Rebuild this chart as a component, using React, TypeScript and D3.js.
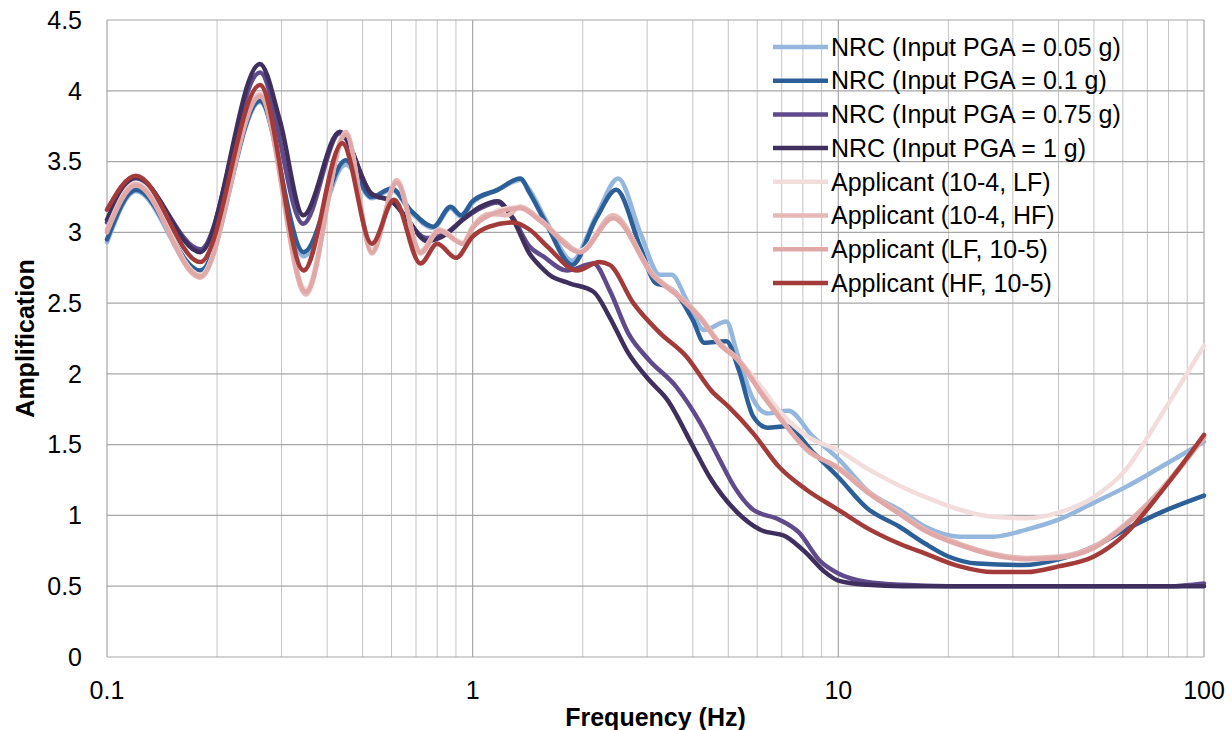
import React, { useEffect, useRef } from 'react';
import * as d3 from 'd3';

// frequency (Hz), amplification pairs
const nrc005 = [
  [0.1, 2.93], [0.12, 3.29], [0.18, 2.70], [0.262, 3.92], [0.345, 2.83], [0.45, 3.48],
  [0.53, 3.24], [0.6, 3.30], [0.68, 3.14], [0.78, 3.03], [0.87, 3.17], [0.93, 3.11],
  [1.0, 3.21], [1.17, 3.30], [1.35, 3.37], [1.43, 3.30], [1.59, 3.08], [1.87, 2.80],
  [2.18, 3.12], [2.5, 3.38], [2.87, 3.0], [3.25, 2.70], [3.5, 2.70], [3.85, 2.52],
  [4.3, 2.31], [4.94, 2.37], [5.28, 2.15], [5.85, 1.82], [6.4, 1.72], [7.3, 1.74],
  [8.5, 1.56], [10, 1.40], [12.2, 1.16], [14.7, 1.04], [17.3, 0.92], [21.5, 0.85],
  [26.5, 0.85], [32.7, 0.90], [40, 0.97], [50, 1.09], [61, 1.20], [76, 1.34], [100, 1.52],
];
const nrc01 = [
  [0.1, 2.95], [0.12, 3.30], [0.18, 2.73], [0.262, 3.93], [0.345, 2.86], [0.45, 3.51],
  [0.53, 3.25], [0.6, 3.31], [0.68, 3.15], [0.78, 3.04], [0.87, 3.18], [0.93, 3.12],
  [1.0, 3.22], [1.17, 3.30], [1.35, 3.38], [1.43, 3.28], [1.59, 3.06], [1.87, 2.77],
  [2.18, 3.10], [2.47, 3.30], [2.87, 2.90], [3.17, 2.64], [3.39, 2.62], [3.6, 2.57],
  [4.0, 2.38], [4.3, 2.22], [4.94, 2.23], [5.34, 2.03], [5.85, 1.70], [6.4, 1.62],
  [7.2, 1.63], [8.5, 1.45], [10, 1.27], [12, 1.05], [14.7, 0.92], [17.3, 0.80],
  [20, 0.71], [24, 0.66], [32, 0.65], [40, 0.69], [50, 0.78], [61, 0.90], [76, 1.02], [100, 1.14],
];
const nrc075 = [
  [0.1, 3.07], [0.12, 3.38], [0.18, 2.88], [0.262, 4.13], [0.344, 3.06], [0.433, 3.70],
  [0.53, 3.27], [0.6, 3.22], [0.75, 2.96], [0.85, 3.0], [0.94, 3.09], [1.05, 3.17],
  [1.17, 3.21], [1.29, 3.10], [1.43, 2.90], [1.56, 2.83], [1.81, 2.73], [2.14, 2.78],
  [2.37, 2.59], [2.66, 2.29], [3.03, 2.10], [3.6, 1.91], [4.2, 1.65], [4.7, 1.41],
  [5.2, 1.20], [5.85, 1.04], [6.9, 0.97], [7.8, 0.88], [8.9, 0.68], [10, 0.59],
  [12, 0.53], [15, 0.51], [20, 0.50], [80, 0.50], [100, 0.52],
];
const nrc1 = [
  [0.1, 3.09], [0.12, 3.39], [0.18, 2.86], [0.262, 4.19], [0.297, 3.79], [0.344, 3.12],
  [0.433, 3.71], [0.53, 3.27], [0.6, 3.22], [0.66, 3.10], [0.75, 2.94], [0.85, 2.99],
  [0.94, 3.09], [1.05, 3.18], [1.17, 3.22], [1.29, 3.09], [1.43, 2.85], [1.53, 2.76],
  [1.62, 2.70], [1.84, 2.64], [2.14, 2.58], [2.37, 2.40], [2.66, 2.15], [3.03, 1.96],
  [3.4, 1.82], [4.0, 1.49], [4.45, 1.27], [5.3, 1.02], [6.1, 0.90], [7.2, 0.85],
  [8.2, 0.73], [9.1, 0.61], [10, 0.54], [12, 0.51], [15, 0.50], [100, 0.50],
];
const app4lf = [
  [0.1, 3.02], [0.12, 3.35], [0.18, 2.70], [0.262, 3.98], [0.35, 2.60], [0.45, 3.70],
  [0.53, 2.88], [0.62, 3.35], [0.72, 2.87], [0.81, 3.02], [0.94, 2.93], [1.0, 3.04],
  [1.11, 3.13], [1.35, 3.18], [1.53, 3.09], [1.97, 2.87], [2.42, 3.12], [3.12, 2.70],
  [3.6, 2.57], [4.2, 2.40], [4.73, 2.22], [5.34, 2.10], [6.1, 1.92], [7.0, 1.72],
  [8.2, 1.56], [10, 1.46], [12.2, 1.32], [14.7, 1.21], [17.3, 1.13], [21.5, 1.04],
  [26.5, 0.99], [32.7, 0.98], [40, 1.02], [50, 1.13], [61, 1.32], [76, 1.70], [100, 2.20],
];
const app4hf = [
  [0.1, 3.02], [0.12, 3.34], [0.18, 2.68], [0.262, 3.97], [0.35, 2.56], [0.45, 3.71],
  [0.53, 2.85], [0.62, 3.37], [0.72, 2.85], [0.81, 3.02], [0.94, 2.92], [1.0, 3.04],
  [1.11, 3.13], [1.24, 3.12], [1.35, 3.18], [1.53, 3.09], [1.77, 2.94], [1.97, 2.86],
  [2.42, 3.12], [3.12, 2.70], [3.6, 2.57], [4.2, 2.40], [4.73, 2.22], [5.34, 2.10],
  [6.2, 1.86], [6.9, 1.70], [8.2, 1.46], [10, 1.34], [12.2, 1.16], [14.7, 1.02],
  [17.3, 0.90], [21.5, 0.80], [26.5, 0.73], [32.7, 0.70], [40, 0.71], [50, 0.78],
  [61, 0.94], [76, 1.18], [100, 1.56],
];
const app5lf = [
  [0.1, 3.00], [0.12, 3.33], [0.18, 2.69], [0.262, 3.96], [0.35, 2.58], [0.45, 3.69],
  [0.53, 2.86], [0.62, 3.35], [0.72, 2.86], [0.81, 3.01], [0.94, 2.92], [1.0, 3.03],
  [1.11, 3.12], [1.35, 3.17], [1.53, 3.08], [1.97, 2.86], [2.42, 3.10], [3.12, 2.69],
  [3.6, 2.56], [4.2, 2.39], [4.73, 2.21], [5.34, 2.09], [6.2, 1.85], [6.9, 1.69],
  [8.2, 1.47], [10, 1.33], [12.2, 1.15], [14.7, 1.01], [17.3, 0.89], [21.5, 0.79],
  [26.5, 0.72], [32.7, 0.69], [40, 0.70], [50, 0.77], [61, 0.93], [76, 1.17], [100, 1.55],
];
const app5hf = [
  [0.1, 3.16], [0.12, 3.40], [0.18, 2.79], [0.262, 4.04], [0.345, 2.73], [0.44, 3.63],
  [0.53, 2.92], [0.61, 3.23], [0.72, 2.78], [0.80, 2.92], [0.9, 2.82], [1.0, 2.97],
  [1.11, 3.04], [1.29, 3.07], [1.43, 3.02], [1.6, 2.90], [1.93, 2.73], [2.22, 2.79],
  [2.37, 2.77], [2.75, 2.50], [3.25, 2.29], [3.85, 2.12], [4.5, 1.88], [5.0, 1.77],
  [5.85, 1.58], [6.9, 1.34], [8.2, 1.18], [10, 1.04], [12.2, 0.90], [14.7, 0.80],
  [17.3, 0.73], [21.5, 0.64], [26.5, 0.60], [32.7, 0.60], [40, 0.64], [50, 0.71],
  [61, 0.87], [76, 1.16], [100, 1.57],
];

const seriesNames = [
  'NRC (Input PGA = 0.05 g)',
  'NRC (Input PGA = 0.1 g)',
  'NRC (Input PGA = 0.75 g)',
  'NRC (Input PGA = 1 g)',
  'Applicant (10-4, LF)',
  'Applicant (10-4, HF)',
  'Applicant (LF, 10-5)',
  'Applicant (HF, 10-5)',
];
const seriesColors = ['#95b7de', '#2c5f97', '#5f4b8b', '#3f2f5e', '#f2dcdc', '#e6b9b8', '#e0a9a8', '#a33b3b'];
const seriesData = [nrc005, nrc01, nrc075, nrc1, app4lf, app4hf, app5lf, app5hf];

const xTicks = [0.1, 1, 10, 100];
const yTicks = [0, 0.5, 1, 1.5, 2, 2.5, 3, 3.5, 4, 4.5];

const W = 1232, H = 730;
const margin = { top: 20, right: 28, bottom: 73, left: 107 };
const FONT = '"Liberation Sans", Arial, sans-serif';

export default function App() {
  const ref = useRef<SVGSVGElement>(null);

  useEffect(() => {
    const svg = d3.select(ref.current);
    svg.selectAll('*').remove();

    const x = d3.scaleLog().domain([0.1, 100]).range([margin.left, W - margin.right]);
    const y = d3.scaleLinear().domain([0, 4.5]).range([H - margin.bottom, margin.top]);

    // minor vertical grid (2..9 in every decade) and decades
    const minor: number[] = [];
    [0.1, 1, 10].forEach(d => { for (let k = 2; k <= 9; k++) minor.push(d * k); });

    const grid = svg.append('g');
    grid.selectAll('.vmin').data(minor).enter().append('line')
      .attr('x1', d => x(d)).attr('x2', d => x(d))
      .attr('y1', y(0)).attr('y2', y(4.5))
      .attr('stroke', '#c4c4c4').attr('stroke-width', 1);
    grid.selectAll('.vmaj').data(xTicks).enter().append('line')
      .attr('x1', d => x(d)).attr('x2', d => x(d))
      .attr('y1', y(0)).attr('y2', y(4.5))
      .attr('stroke', '#a6a6a6').attr('stroke-width', 1.2);
    grid.selectAll('.h').data(yTicks).enter().append('line')
      .attr('x1', x(0.1)).attr('x2', x(100))
      .attr('y1', d => y(d)).attr('y2', d => y(d))
      .attr('stroke', '#a6a6a6').attr('stroke-width', 1.2);

    // axis tick labels
    svg.append('g').selectAll('text').data(yTicks).enter().append('text')
      .attr('x', 82).attr('y', d => y(d)).attr('dy', '0.35em')
      .attr('text-anchor', 'end')
      .attr('font-family', FONT).attr('font-size', 25).attr('fill', '#000')
      .text(d => String(d));
    svg.append('g').selectAll('text').data(xTicks).enter().append('text')
      .attr('x', d => x(d)).attr('y', 699)
      .attr('text-anchor', 'middle')
      .attr('font-family', FONT).attr('font-size', 25).attr('fill', '#000')
      .text(d => String(d));

    // axis titles
    svg.append('text')
      .attr('x', (x(0.1) + x(100)) / 2).attr('y', 726)
      .attr('text-anchor', 'middle')
      .attr('font-family', FONT).attr('font-size', 25).attr('font-weight', 'bold')
      .text('Frequency (Hz)');
    svg.append('text')
      .attr('transform', `translate(34, ${(y(0) + y(4.5)) / 2}) rotate(-90)`)
      .attr('text-anchor', 'middle')
      .attr('font-family', FONT).attr('font-size', 25).attr('font-weight', 'bold')
      .text('Amplification');

    // curves
    const line = d3.line<number[]>()
      .x(d => x(d[0]))
      .y(d => y(d[1]))
      .curve(d3.curveMonotoneX);

    svg.append('g').selectAll('path').data(seriesData).enter().append('path')
      .attr('d', d => line(d))
      .attr('fill', 'none')
      .attr('stroke', (_, i) => seriesColors[i])
      .attr('stroke-width', 4.5)
      .attr('stroke-linejoin', 'round')
      .attr('stroke-linecap', 'round');

    // legend
    const leg = svg.append('g');
    const rows = leg.selectAll('g').data(seriesNames).enter().append('g')
      .attr('transform', (_, i) => `translate(773, ${47 + i * 33.7})`);
    rows.append('line')
      .attr('x1', 0).attr('x2', 55).attr('y1', 0).attr('y2', 0)
      .attr('stroke', (_, i) => seriesColors[i]).attr('stroke-width', 4.5);
    rows.append('text')
      .attr('x', 58).attr('y', 0).attr('dy', '0.35em')
      .attr('font-family', FONT).attr('font-size', 25).attr('fill', '#000')
      .text(d => d);
  }, []);

  return (
    <svg ref={ref} width={W} height={H}
      style={{ position: 'absolute', left: 0, top: 0, background: '#fff' }} />
  );
}
